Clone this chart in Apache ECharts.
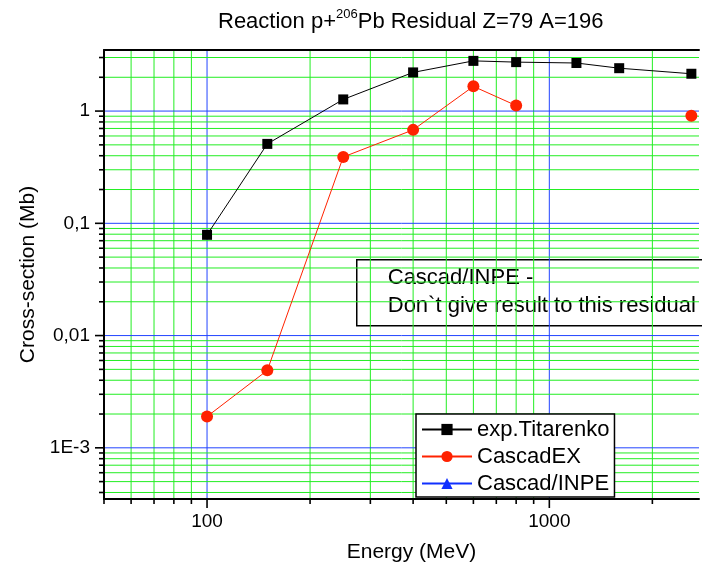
<!DOCTYPE html>
<html><head><meta charset="utf-8">
<script src="https://cdn.jsdelivr.net/npm/echarts@6/dist/echarts.min.js"></script>
<style>html,body{margin:0;padding:0;background:#fff;overflow:hidden}#c{width:702px;height:571px}</style>
</head><body><div id="c"></div>
<script>
// ---- data ----
const energies = [100, 150, 250, 400, 600, 800, 1200, 1600, 2600];
const titarenko = [0.079, 0.51, 1.27, 2.21, 2.80, 2.73, 2.68, 2.41, 2.15];
const cascadEX = [0.0019, 0.0049, 0.39, 0.68, 1.66, 1.12, null, null, 0.91];
const cascadINPE = [];
const seriesNames = ['exp.Titarenko', 'CascadEX', 'Cascad/INPE'];
const xTickValues = [100, 1000];
const xTickLabels = ['100', '1000'];
const yTickValues = [0.001, 0.01, 0.1, 1];
const yTickLabels = ['1E-3', '0,01', '0,1', '1'];
const xMinorValues = [50, 60, 70, 80, 90, 200, 300, 400, 500, 600, 700, 800, 900, 2000];
const yMinorValues = [4e-4, 5e-4, 6e-4, 7e-4, 8e-4, 9e-4, 2e-3, 3e-3, 4e-3, 5e-3, 6e-3, 7e-3, 8e-3, 9e-3,
  0.02, 0.03, 0.04, 0.05, 0.06, 0.07, 0.08, 0.09, 0.2, 0.3, 0.4, 0.5, 0.6, 0.7, 0.8, 0.9, 2, 3];
const xRange = [50, 2737];
const yRange = [3.5e-4, 3.5];
const noteLines = ['Cascad/INPE -', 'Don`t give result to this residual'];
const titleText = 'Reaction p+{sup|206}Pb Residual Z=79 A=196';
const xName = 'Energy (MeV)';
const yName = 'Cross-section (Mb)';

// ---- styling ----
const FONT = '"Liberation Sans", Arial, sans-serif';
const GREEN = '#22ee22';
const BLUE = '#2244ff';

function pairs(xs, ys) {
  return xs.map((x, i) => [x, ys[i] == null ? '-' : ys[i]]);
}
function labelFor(values, labels) {
  return function (v) {
    for (let i = 0; i < values.length; i++) {
      if (Math.abs(Math.log10(v) - Math.log10(values[i])) < 1e-6) return labels[i];
    }
    return '';
  };
}

const xGridData = xTickValues.map(v => [v, 1, 1]).concat(xMinorValues.map(v => [v, 1, 0]));
const yGridData = yTickValues.map(v => [100, v, 1]).concat(yMinorValues.map(v => [100, v, 0]));

function renderX(params, api) {
  const cs = params.coordSys;
  const v = api.value(0), major = api.value(2) === 1;
  const x = api.coord([v, 1])[0];
  const b = cs.y + cs.height;
  const ch = [];
  if (v > xRange[0] && v < xRange[1]) {
    ch.push({type: 'line', shape: {x1: x, y1: cs.y, x2: x, y2: b},
      style: {stroke: major ? BLUE : GREEN, lineWidth: 1}});
  }
  ch.push({type: 'line', shape: {x1: x, y1: b, x2: x, y2: b + (major ? 9 : 5)},
    style: {stroke: '#000', lineWidth: 1.6}});
  return {type: 'group', children: ch};
}
function renderY(params, api) {
  const cs = params.coordSys;
  const v = api.value(1), major = api.value(2) === 1;
  const y = api.coord([100, v])[1];
  const r = cs.x + cs.width;
  const ch = [];
  if (v > yRange[0] && v < yRange[1]) {
    ch.push({type: 'line', shape: {x1: cs.x, y1: y, x2: r, y2: y},
      style: {stroke: major ? BLUE : GREEN, lineWidth: 1}});
  }
  ch.push({type: 'line', shape: {x1: cs.x, y1: y, x2: cs.x - (major ? 9 : 5), y2: y},
    style: {stroke: '#000', lineWidth: 1.6}});
  return {type: 'group', children: ch};
}

const chart = echarts.init(document.getElementById('c'), null, {renderer: 'canvas'});
chart.setOption({
  animation: false,
  backgroundColor: '#fff',
  textStyle: {fontFamily: FONT},
  title: {
    text: titleText, left: 213, top: 3,
    textStyle: {fontSize: 22, fontWeight: 'normal', color: '#000', fontFamily: FONT, lineHeight: 28,
      rich: {sup: {fontSize: 13, lineHeight: 14, verticalAlign: 'top', color: '#000', fontFamily: FONT}}}
  },
  grid: {left: 104, top: 50, right: 0, bottom: 72, show: false, containLabel: false},
  xAxis: [{
    type: 'log', logBase: 10, min: xRange[0], max: xRange[1], z: 5,
    name: xName, nameLocation: 'middle', nameGap: 43,
    nameTextStyle: {fontSize: 21, color: '#000', fontFamily: FONT, padding: [0, 0, 0, 20]},
    axisLine: {show: true, lineStyle: {color: '#000', width: 2}},
    axisTick: {show: false}, splitLine: {show: false}, minorTick: {show: false},
    axisLabel: {color: '#000', fontSize: 19, margin: 13, fontFamily: FONT,
      formatter: labelFor(xTickValues, xTickLabels)}
  }, {
    type: 'log', logBase: 10, min: xRange[0], max: xRange[1], z: 5, position: 'top',
    axisLine: {show: true, lineStyle: {color: '#000', width: 2}},
    axisTick: {show: false}, splitLine: {show: false}, axisLabel: {show: false}
  }],
  yAxis: {
    type: 'log', logBase: 10, min: yRange[0], max: yRange[1], z: 5,
    name: yName, nameLocation: 'middle', nameGap: 64, nameRotate: 90,
    nameTextStyle: {fontSize: 21, color: '#000', fontFamily: FONT},
    axisLine: {show: true, lineStyle: {color: '#000', width: 2}},
    axisTick: {show: false}, splitLine: {show: false}, minorTick: {show: false},
    axisLabel: {color: '#000', fontSize: 19, margin: 14, fontFamily: FONT,
      formatter: labelFor(yTickValues, yTickLabels)}
  },
  legend: {
    orient: 'vertical', left: 416, top: 414, itemWidth: 50, itemHeight: 14, itemGap: 0,
    padding: [2, 5, 0, 5], borderColor: '#000', borderWidth: 1.5, backgroundColor: '#fff',
    textStyle: {fontSize: 22, lineHeight: 27, color: '#000', fontFamily: FONT},
    data: seriesNames, z: 10
  },
  graphic: [{
    type: 'group', left: 356, top: 259, z: 100,
    children: [
      {type: 'rect', shape: {x: 0, y: 0, width: 370, height: 66},
        style: {fill: '#fff', stroke: '#000', lineWidth: 1.5}},
      {type: 'text', x: 31, y: 4,
        style: {text: noteLines.join('\n'), font: '22px ' + FONT, lineHeight: 28, fill: '#000'}}
    ]
  }],
  series: [
    {type: 'custom', name: 'xgrid', data: xGridData, renderItem: renderX, z: 1, silent: true, clip: false,
      encode: {x: 0, y: 1}},
    {type: 'custom', name: 'ygrid', data: yGridData, renderItem: renderY, z: 1, silent: true, clip: false,
      encode: {x: 0, y: 1}},
    {type: 'line', name: seriesNames[0], data: pairs(energies, titarenko), z: 3,
      symbol: 'rect', symbolSize: 10, lineStyle: {color: '#000', width: 1}, itemStyle: {color: '#000'},
      connectNulls: false},
    {type: 'line', name: seriesNames[1], data: pairs(energies, cascadEX), z: 3,
      symbol: 'circle', symbolSize: 12, lineStyle: {color: '#ff2200', width: 1}, itemStyle: {color: '#ff2200'},
      connectNulls: false},
    {type: 'line', name: seriesNames[2], data: cascadINPE, z: 3,
      symbol: 'triangle', symbolSize: 12, lineStyle: {color: '#1030ff', width: 1}, itemStyle: {color: '#1030ff'}}
  ]
});
</script></body></html>
